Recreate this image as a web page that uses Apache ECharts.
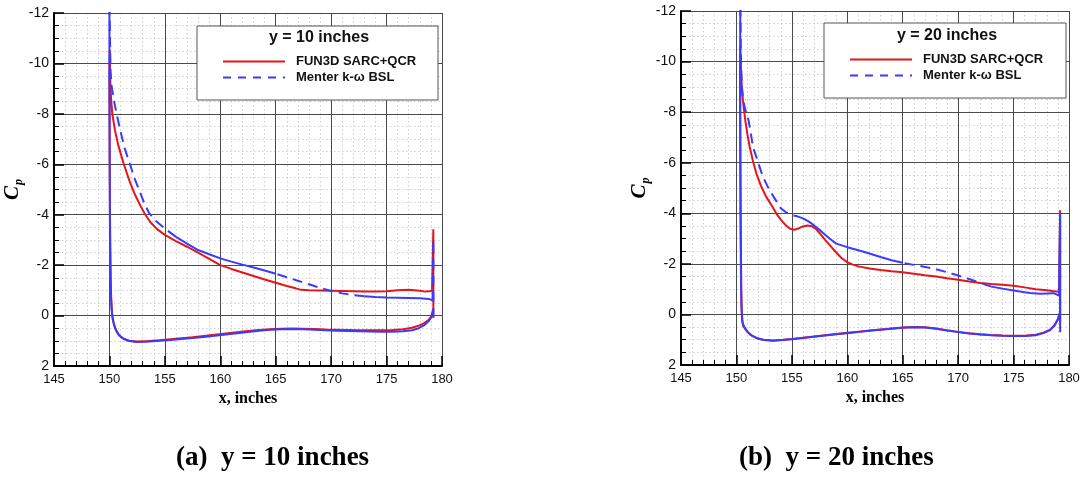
<!DOCTYPE html>
<html><head><meta charset="utf-8">
<script src="https://cdn.jsdelivr.net/npm/echarts@6/dist/echarts.min.js"></script>
<style>html,body{margin:0;padding:0;background:#fff}#c{width:1084px;height:477px}</style>
</head><body><div id="c"></div>
<script>
// ---------- data ----------
const seriesNames = ['FUN3D SARC+QCR', 'Menter k-\u03c9 BSL'];
const panelTitles = ['y = 10 inches', 'y = 20 inches'];
const captions = ['(a)  y = 10 inches', '(b)  y = 20 inches'];
const xAxisName = 'x, inches';
const xRange = [145, 180];
const cpRange = [-12, 2];

// y = 10 inches : [x, Cp]  (TE spike -> upper surface -> LE -> lower surface)
const fun3d10 = [[179.22,0.05],[179.22,-3.42],[179.1,-0.97],[178.5,-0.95],[178,-0.98],[177,-1.02],[176,-1.0],[175,-0.96],[174,-0.95],[173,-0.95],[172,-0.96],[171,-0.97],[170,-0.98],[169,-0.99],[168,-1.0],[167.3,-1.02],[166.8,-1.08],[166,-1.17],[165,-1.3],[164,-1.43],[163,-1.57],[162,-1.71],[161,-1.85],[160,-2.0],[159,-2.25],[158,-2.5],[157,-2.73],[156,-2.95],[155,-3.2],[154.3,-3.43],[153.7,-3.7],[153.2,-4.03],[152.8,-4.35],[152.3,-4.8],[151.8,-5.35],[151.3,-6.0],[150.8,-6.75],[150.5,-7.35],[150.26,-8.0],[150.15,-8.6],[150.08,-9.3],[150.03,-10.54],[150.0,-9.5],[150.02,-7],[150.05,-4],[150.1,-2],[150.15,-0.8],[150.25,0],[150.4,0.35],[150.6,0.6],[150.9,0.8],[151.3,0.93],[151.8,1.0],[152.5,1.03],[153.5,1.01],[154.5,0.98],[155.5,0.94],[156.5,0.9],[157.5,0.86],[158.5,0.81],[159.5,0.76],[160.5,0.71],[161.5,0.66],[162.5,0.61],[163.5,0.57],[164.5,0.54],[165.5,0.52],[166.5,0.51],[167.5,0.52],[168.5,0.53],[169.5,0.55],[170.5,0.56],[171.5,0.57],[172.5,0.58],[173.5,0.58],[174.5,0.58],[175.5,0.57],[176.5,0.54],[177.3,0.48],[177.9,0.4],[178.4,0.3],[178.8,0.17],[179.05,0.02],[179.2,-0.25]];
const menter10 = [[179.22,0.1],[179.22,-3.0],[179.15,-0.6],[178.8,-0.66],[178,-0.69],[177,-0.7],[176,-0.71],[175,-0.72],[174,-0.74],[173,-0.77],[172,-0.81],[171,-0.88],[170,-0.98],[169,-1.1],[168,-1.24],[167,-1.38],[166,-1.52],[165,-1.66],[164,-1.79],[163,-1.91],[162,-2.02],[161,-2.14],[160,-2.27],[159,-2.43],[158,-2.6],[157,-2.85],[156,-3.12],[155,-3.45],[154.2,-3.75],[153.6,-4.05],[153.2,-4.4],[152.8,-4.85],[152.3,-5.4],[151.85,-6.0],[151.4,-6.6],[151,-7.3],[150.65,-8.0],[150.4,-8.55],[150.2,-9.1],[150.1,-9.7],[150.0,-12.3],[150.0,-9],[150.02,-6],[150.05,-3],[150.1,-1.2],[150.18,-0.3],[150.3,0.15],[150.5,0.48],[150.8,0.74],[151.2,0.9],[151.7,1.0],[152.4,1.05],[153.3,1.04],[154.5,1.0],[155.5,0.97],[156.5,0.93],[157.5,0.89],[158.5,0.85],[159.5,0.8],[160.5,0.75],[161.5,0.7],[162.5,0.65],[163.5,0.6],[164.5,0.56],[165.5,0.54],[166.5,0.53],[167.5,0.54],[168.5,0.56],[169.5,0.58],[170.5,0.6],[171.5,0.61],[172.5,0.62],[173.5,0.63],[174.5,0.64],[175.5,0.64],[176.5,0.62],[177.3,0.58],[177.9,0.5],[178.4,0.38],[178.8,0.22],[179.05,0.05],[179.22,-0.2]];

// y = 20 inches
const fun3d20 = [[179.2,0.3],[179.2,-4.12],[179.1,-0.9],[178.5,-0.93],[178,-0.96],[177,-1.0],[176,-1.07],[175,-1.13],[174,-1.17],[173,-1.2],[172,-1.24],[171,-1.3],[170,-1.37],[169,-1.43],[168,-1.5],[167,-1.55],[166,-1.61],[165,-1.67],[164,-1.71],[163,-1.76],[162,-1.82],[161,-1.9],[160.5,-1.97],[160,-2.07],[159.5,-2.22],[159,-2.45],[158.5,-2.7],[158,-2.95],[157.6,-3.17],[157.2,-3.37],[156.8,-3.49],[156.4,-3.52],[156,-3.48],[155.6,-3.4],[155.2,-3.35],[154.8,-3.4],[154.4,-3.55],[154,-3.75],[153.6,-3.99],[153.2,-4.3],[152.7,-4.64],[152.2,-5.1],[151.8,-5.57],[151.5,-6.05],[151.2,-6.62],[151,-7.1],[150.8,-7.67],[150.6,-8.4],[150.5,-8.9],[150.42,-9.6],[150.35,-10.57],[150.33,-9.5],[150.35,-7],[150.38,-4],[150.42,-2],[150.45,-0.5],[150.5,0.2],[150.6,0.45],[150.96,0.68],[151.3,0.82],[151.8,0.93],[152.4,1.0],[153.3,1.03],[154.2,1.0],[155,0.97],[156,0.92],[157,0.87],[158,0.82],[159,0.77],[160,0.72],[161,0.68],[162,0.64],[163,0.6],[164,0.56],[165,0.52],[166,0.5],[167,0.51],[168,0.56],[169,0.63],[170,0.69],[171,0.74],[172,0.78],[173,0.81],[174,0.83],[175,0.84],[176,0.84],[177,0.8],[177.7,0.72],[178.3,0.6],[178.7,0.42],[179,0.18],[179.15,-0.05]];
const menter20 = [[179.2,0.7],[179.2,-4.0],[179.1,-0.75],[178.6,-0.84],[178,-0.83],[177.4,-0.82],[176.5,-0.85],[176,-0.88],[175,-0.95],[174,-1.02],[173,-1.1],[172.5,-1.17],[172,-1.25],[171,-1.4],[170,-1.54],[169,-1.67],[168,-1.79],[167,-1.88],[166,-1.96],[165,-2.04],[164,-2.14],[163,-2.27],[162,-2.41],[161,-2.54],[160,-2.66],[159,-2.8],[158.4,-3.0],[158,-3.15],[157.5,-3.35],[157,-3.52],[156.5,-3.68],[156,-3.8],[155.5,-3.88],[155,-3.93],[154.5,-4.03],[154,-4.2],[153.5,-4.55],[153,-4.9],[152.4,-5.43],[152,-5.95],[151.5,-6.62],[151.1,-7.67],[150.8,-8.1],[150.6,-8.47],[150.5,-9.0],[150.42,-9.8],[150.35,-12.3],[150.33,-9],[150.35,-6],[150.38,-3],[150.42,-1],[150.47,-0.2],[150.55,0.3],[150.7,0.5],[151,0.68],[151.4,0.84],[151.9,0.95],[152.5,1.01],[153.3,1.04],[154.2,1.01],[155,0.98],[156,0.93],[157,0.88],[158,0.83],[159,0.78],[160,0.74],[161,0.7],[162,0.65],[163,0.61],[164,0.57],[165,0.53],[166,0.51],[167,0.52],[168,0.57],[169,0.64],[170,0.7],[171,0.75],[172,0.79],[173,0.82],[174,0.84],[175,0.85],[176,0.85],[177,0.82],[177.7,0.74],[178.3,0.62],[178.7,0.44],[179,0.2],[179.15,-0.03]];

// ---------- style ----------
const RED = '#e3161b', BLUE = '#3b3bff';
const DASH = [10, 6];
// x-ranges of the upper surface where the Menter curve shows as dashed (Tecplot look)
const dashStyle10 = { te: true, upper: [[149.9, 156], [165, 173.3]] };
const dashStyle20 = { te: false, upper: [[150.3, 156.2], [165.3, 173]] };

function runs(pts, dash) {
  let peak = 0;
  pts.forEach((p, i) => { if (p[1] < pts[peak][1]) peak = i; });
  const isDash = i => {
    if (i <= 1) return dash.te;
    if (i >= peak) return false;
    const xm = (pts[i][0] + pts[i + 1][0]) / 2;
    return dash.upper.some(([a, b]) => xm >= a && xm <= b);
  };
  const out = []; let cur = null;
  for (let i = 0; i < pts.length - 1; i++) {
    const d = isDash(i);
    if (!cur || cur.dashed !== d) { cur = { dashed: d, data: [pts[i]] }; out.push(cur); }
    cur.data.push(pts[i + 1]);
  }
  return out.sort((a, b) => (b.dashed ? 1 : 0) - (a.dashed ? 1 : 0));
}

const FONT = 'Liberation Sans, Arial, sans-serif';
const SERIF = 'Liberation Serif, Times New Roman, serif';

const grids = [
  { left: 54, top: 13, width: 388, height: 353 },
  { left: 681, top: 11, width: 388, height: 354 }
];

const HIDDEN = { axisLine: { show: false }, axisTick: { show: false }, axisLabel: { show: false } };

// main axes: labels, ticks, major grid
function xAxisFor(i) {
  return {
    type: 'value', gridIndex: i, min: xRange[0], max: xRange[1], interval: 5, z: 2,
    name: xAxisName, nameLocation: 'middle', nameGap: 21,
    nameTextStyle: { fontFamily: SERIF, fontWeight: 'bold', fontSize: 16, color: '#000' },
    axisLine: { onZero: false, lineStyle: { color: '#000', width: 2 } },
    axisTick: { inside: true, length: 10, lineStyle: { color: '#000', width: 1.5 } },
    minorTick: { show: true, splitNumber: 5, length: 5, lineStyle: { color: '#000', width: 1 } },
    axisLabel: { fontFamily: FONT, fontSize: 13, color: '#111', margin: 7 },
    splitLine: { show: true, lineStyle: { color: '#4a4a4a', width: 1 } },
    minorSplitLine: { show: false }
  };
}
function yAxisFor(i) {
  return {
    type: 'value', gridIndex: i, min: cpRange[0], max: cpRange[1], interval: 2, inverse: true, z: 2,
    name: '{c|C}{p|p}', nameLocation: 'middle', nameRotate: 90, nameGap: 28,
    nameTextStyle: {
      rich: {
        c: { fontFamily: SERIF, fontStyle: 'italic', fontWeight: 'bold', fontSize: 21, color: '#000' },
        p: { fontFamily: SERIF, fontStyle: 'italic', fontWeight: 'bold', fontSize: 12, color: '#000', padding: [12, 0, 0, 1] }
      }
    },
    axisLine: { onZero: false, lineStyle: { color: '#000', width: 2 } },
    axisTick: { inside: true, length: 10, lineStyle: { color: '#000', width: 1.5 } },
    minorTick: { show: true, splitNumber: 4, length: 5, lineStyle: { color: '#000', width: 1 } },
    axisLabel: { fontFamily: FONT, fontSize: 14, color: '#111', margin: 5 },
    splitLine: { show: true, lineStyle: { color: '#4a4a4a', width: 1 } },
    minorSplitLine: { show: false }
  };
}
// companion axes: only the dotted minor grid, drawn underneath
function xMinorFor(i) {
  return Object.assign({
    type: 'value', gridIndex: i, min: xRange[0], max: xRange[1], interval: 5, z: 0, position: 'bottom',
    minorTick: { show: false, splitNumber: 5 },
    splitLine: { show: false },
    minorSplitLine: { show: true, lineStyle: { color: '#cfcfcf', width: 1, type: [1.5, 2.5] } }
  }, HIDDEN);
}
function yMinorFor(i) {
  return Object.assign({
    type: 'value', gridIndex: i, min: cpRange[0], max: cpRange[1], interval: 2, inverse: true, z: 0, position: 'left',
    minorTick: { show: false, splitNumber: 4 },
    splitLine: { show: false },
    minorSplitLine: { show: true, lineStyle: { color: '#cfcfcf', width: 1, type: [1.5, 2.5] } }
  }, HIDDEN);
}

function panelSeries(i, fun, men, dash) {
  const s = [{
    type: 'line', name: seriesNames[0], xAxisIndex: i, yAxisIndex: i, data: fun,
    symbol: 'none', showSymbol: false, clip: true, z: 3,
    lineStyle: { color: RED, width: 2 }, itemStyle: { color: RED }
  }];
  runs(men, dash).forEach(r => s.push({
    type: 'line', name: seriesNames[1], xAxisIndex: i, yAxisIndex: i, data: r.data,
    symbol: 'none', showSymbol: false, clip: true, z: 4,
    lineStyle: { color: BLUE, width: 2, type: r.dashed ? DASH : 'solid' }, itemStyle: { color: BLUE }
  }));
  return s;
}

const legendBoxes = [
  { x: 197, y: 26, w: 241, h: 74, titleX: 319, titleY: 38, itemLeft: 217, itemTop: 50 },
  { x: 824, y: 23, w: 242, h: 75, titleX: 947, titleY: 36, itemLeft: 844, itemTop: 48 }
];

function legendFor(b) {
  return {
    orient: 'vertical', left: b.itemLeft, top: b.itemTop, itemWidth: 62, itemHeight: 14, itemGap: 3,
    selectedMode: false, z: 8,
    itemStyle: { opacity: 0 },
    data: [
      { name: seriesNames[0], lineStyle: { color: RED, width: 2, type: 'solid' } },
      { name: seriesNames[1], lineStyle: { color: BLUE, width: 2, type: [8, 7] } }
    ],
    textStyle: { fontFamily: FONT, fontWeight: 'bold', fontSize: 13, color: '#111', padding: [0, 0, 0, 6] }
  };
}

const graphics = [];
legendBoxes.forEach((b, i) => {
  graphics.push({ type: 'rect', z: 6, shape: { x: b.x, y: b.y, width: b.w, height: b.h },
    style: { fill: '#fff', stroke: '#555', lineWidth: 1 } });
  graphics.push({ type: 'text', z: 7, x: b.titleX, y: b.titleY,
    style: { text: panelTitles[i], font: 'bold 16px ' + FONT, fill: '#111', textAlign: 'center', textVerticalAlign: 'middle' } });
});
[176, 739].forEach((x, i) => graphics.push({ type: 'text', z: 7, x: x, y: 458,
  style: { text: captions[i], font: 'bold 27px ' + SERIF, fill: '#000', textAlign: 'left', textVerticalAlign: 'middle' } }));

const chart = echarts.init(document.getElementById('c'), null, { renderer: 'canvas' });
chart.setOption({
  animation: false,
  backgroundColor: '#fff',
  grid: grids,
  xAxis: [xAxisFor(0), xAxisFor(1), xMinorFor(0), xMinorFor(1)],
  yAxis: [yAxisFor(0), yAxisFor(1), yMinorFor(0), yMinorFor(1)],
  legend: legendBoxes.map(legendFor),
  graphic: graphics,
  series: [].concat(panelSeries(0, fun3d10, menter10, dashStyle10), panelSeries(1, fun3d20, menter20, dashStyle20))
});
</script></body></html>
